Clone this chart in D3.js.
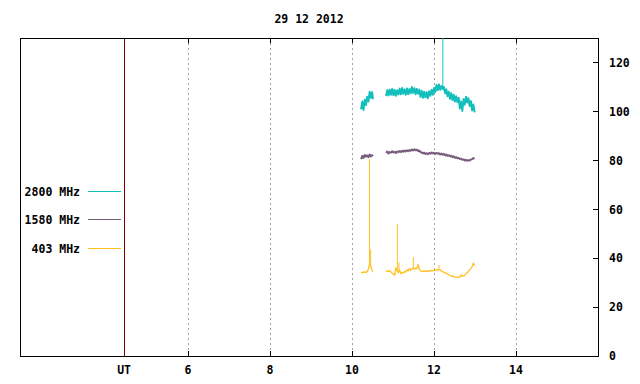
<!DOCTYPE html>
<html><head><meta charset="utf-8">
<script src="https://cdn.jsdelivr.net/npm/d3@7"></script>
<style>
html,body{margin:0;padding:0;background:#fff;}
text{font-family:"DejaVu Sans Mono","Liberation Mono",monospace;font-weight:bold;font-size:11.5px;fill:#000;}
</style></head>
<body><svg id="c" width="640" height="384"></svg>
<script>
const title = "29 12 2012";
const xTickValues = [4.44, 6, 8, 10, 12, 14];
const xTickLabels = ["UT", "6", "8", "10", "12", "14"];
const xGridValues = [6, 8, 10, 12, 14];
const yTickValues = [0, 20, 40, 60, 80, 100, 120];
const seriesNames = ["2800 MHz", "1580 MHz", "403 MHz"];
const seriesColors = ["#12bfbd", "#7a5c7e", "#ffc020"];
const seriesWidths = [2, 2, 1.3];

const hours1 = [10.22,10.25,10.28,10.31,10.34,10.37,10.40,10.43,10.46,10.49,10.51];
const hours2 = [10.83,10.86,10.89,10.92,10.95,10.98,11.01,11.04,11.07,11.10,
11.13,11.16,11.19,11.22,11.25,11.28,11.31,11.34,11.37,11.40,
11.43,11.46,11.49,11.52,11.55,11.58,11.61,11.64,11.67,11.70,
11.73,11.76,11.79,11.82,11.85,11.88,11.91,11.94,11.97,12.00,
12.03,12.06,12.09,12.12,12.15,12.18,12.21,12.24,12.27,12.30,
12.33,12.36,12.39,12.42,12.45,12.48,12.51,12.54,12.57,12.60,
12.63,12.66,12.69,12.72,12.75,12.78,12.81,12.84,12.87,12.90,
12.93,12.96,12.99];

const mhz2800_a = [100.8,104.0,100.6,104.8,102.6,106.0,104.0,108.0,105.6,107.8,105.0];
const mhz2800_b = [106.3,108.7,106.5,108.9,106.8,109.2,106.6,108.8,106.4,108.6,
106.9,109.3,107.0,109.6,107.2,109.0,106.8,109.4,107.0,109.1,
107.4,110.0,107.6,109.5,107.0,109.2,107.2,108.9,106.0,108.4,
105.6,108.0,105.8,107.8,105.4,108.2,106.4,108.8,106.8,109.6,
107.9,110.8,108.6,111.0,108.8,110.4,109.2,110.0,107.4,109.0,
106.2,108.0,105.2,107.4,104.6,106.8,104.0,106.2,103.8,105.6,
101.2,104.0,100.2,105.0,102.8,106.0,103.6,105.4,102.2,104.2,
100.4,102.8,99.6];
// spikes: [hour, base value, peak value]
const spikes2800 = [[12.215, 109.6, 140]];

const mhz1580_a = [80.5,81.8,81.0,82.2,81.5,82.0,81.3,82.4,81.6,82.1,81.8];
const mhz1580_b = [83.0,83.6,82.8,83.4,83.1,83.7,83.2,83.5,83.0,83.6,
83.3,83.8,83.4,83.9,83.5,84.0,83.6,84.1,83.7,84.2,
83.9,84.4,84.0,84.5,84.1,84.3,83.8,84.0,83.4,83.2,
82.8,83.1,82.6,82.9,82.5,83.0,82.7,83.2,82.8,83.1,
82.6,83.0,82.7,82.9,82.4,82.8,82.3,82.6,82.0,82.4,
81.8,82.1,81.6,81.9,81.3,81.6,81.0,81.3,80.8,81.0,
80.5,80.7,80.2,80.4,79.9,80.2,79.8,80.1,79.9,80.3,
80.5,80.9,80.6];
const spikes1580 = [];

const mhz403_a = [34.0,34.3,34.1,34.4,34.2,34.5,35.6,37.8,36.5,35.0,34.2];
const mhz403_b = [34.5,34.8,34.6,34.9,34.4,33.8,33.4,33.0,36.0,35.0,
34.0,35.2,33.6,34.2,34.0,34.6,34.3,35.2,34.8,35.8,
35.0,35.6,36.0,35.4,36.0,35.6,37.5,35.4,34.8,34.5,
34.6,34.9,34.5,34.8,34.6,34.9,34.7,35.0,34.8,35.1,
35.0,35.3,35.1,35.4,35.2,34.8,34.5,34.2,34.0,33.8,
33.5,33.2,32.9,32.7,32.5,32.6,32.3,32.1,32.0,32.4,
32.2,33.2,32.6,32.8,33.0,33.6,34.0,34.6,35.2,35.8,
36.5,38.0,37.0];
const spikes403 = [[10.425, 37.0, 80.5], [10.455, 36.5, 43.5], [11.105, 34.5, 54.0],
  [11.145, 34.5, 38.2], [11.495, 35.5, 40.5], [12.12, 35.2, 37.2]];

const svg = d3.select("#c");
const L = 20, R = 598, T = 38, B = 356;
const x = d3.scaleLinear().domain([1.9, 16]).range([L, R]);
const y = d3.scaleLinear().domain([0, 130]).range([B, T]);

svg.append("defs").append("clipPath").attr("id","clip")
  .append("rect").attr("x",L).attr("y",T).attr("width",R-L).attr("height",B-T);

// title
svg.append("text").attr("x", 309).attr("y", 23).attr("text-anchor","middle").text(title);

// grid
svg.append("g").selectAll("line").data(xGridValues).join("line")
  .attr("x1", d=>Math.round(x(d))+0.5).attr("x2", d=>Math.round(x(d))+0.5)
  .attr("y1", T).attr("y2", B)
  .attr("stroke","#a0a0a0").attr("stroke-dasharray","2,3")
  .attr("shape-rendering","crispEdges");

// UT line
svg.append("line").attr("x1", Math.round(x(xTickValues[0]))+0.5).attr("x2", Math.round(x(xTickValues[0]))+0.5)
  .attr("y1", T).attr("y2", B).attr("stroke","#800000").attr("shape-rendering","crispEdges");

// bottom axis
const xb = svg.append("g").attr("transform",`translate(0,${B})`)
  .call(d3.axisBottom(x).tickValues(xGridValues).tickSize(-5).tickFormat(""));
xb.select(".domain").remove();
xb.selectAll("line").attr("stroke","#000").attr("shape-rendering","crispEdges");
svg.append("g").selectAll("text").data(xTickValues).join("text")
  .attr("x", d=>x(d)).attr("y", 374).attr("text-anchor","middle")
  .text((d,i)=>xTickLabels[i]);

// top ticks
const xt = svg.append("g").attr("transform",`translate(0,${T})`)
  .call(d3.axisTop(x).tickValues(xGridValues).tickSize(-5).tickFormat(""));
xt.select(".domain").remove();
xt.selectAll("line").attr("stroke","#000").attr("shape-rendering","crispEdges");

// right axis
const yr = svg.append("g").attr("transform",`translate(${R},0)`)
  .call(d3.axisRight(y).tickValues(yTickValues).tickSize(-5).tickPadding(11).tickFormat(d3.format("d")));
yr.select(".domain").remove();
yr.selectAll("line").attr("stroke","#000").attr("shape-rendering","crispEdges");
yr.selectAll("text").attr("fill","#000").attr("font-size",null).attr("font-family",null)
  .attr("text-anchor","start").attr("dy","0.33em");

// border
svg.append("rect").attr("x",L+0.5).attr("y",T+0.5).attr("width",R-L).attr("height",B-T)
  .attr("fill","none").attr("stroke","#000").attr("shape-rendering","crispEdges");

// series
const series = [
  {segs:[mhz2800_a, mhz2800_b], spikes: spikes2800},
  {segs:[mhz1580_a, mhz1580_b], spikes: spikes1580},
  {segs:[mhz403_a, mhz403_b], spikes: spikes403}
];
const line = d3.line().x(d=>x(d[0])).y(d=>y(d[1]));
const g = svg.append("g").attr("clip-path","url(#clip)");
for (let si = series.length - 1; si >= 0; si--) {
  const s = series[si];
  [[hours1, s.segs[0]], [hours2, s.segs[1]]].forEach(([hs, vs]) => {
    g.append("path").datum(hs.map((h,i)=>[h, vs[i]]))
      .attr("d", line).attr("fill","none").attr("stroke", seriesColors[si])
      .attr("stroke-width", seriesWidths[si]).attr("stroke-linejoin","round");
  });
  g.append("g").selectAll("line").data(s.spikes).join("line")
    .attr("x1", d=>x(d[0])).attr("x2", d=>x(d[0]))
    .attr("y1", d=>y(d[1])).attr("y2", d=>y(d[2]))
    .attr("stroke", seriesColors[si]).attr("stroke-width", 1);
}

// legend
const legY = [191.5, 219.5, 248.5];
const leg = svg.append("g");
seriesNames.forEach((n,i)=>{
  leg.append("text").attr("x",80).attr("y",legY[i]+4.5).attr("text-anchor","end").text(n);
  leg.append("line").attr("x1",88).attr("x2",121).attr("y1",legY[i]).attr("y2",legY[i])
    .attr("stroke",seriesColors[i]).attr("shape-rendering","crispEdges");
});
</script></body></html>
